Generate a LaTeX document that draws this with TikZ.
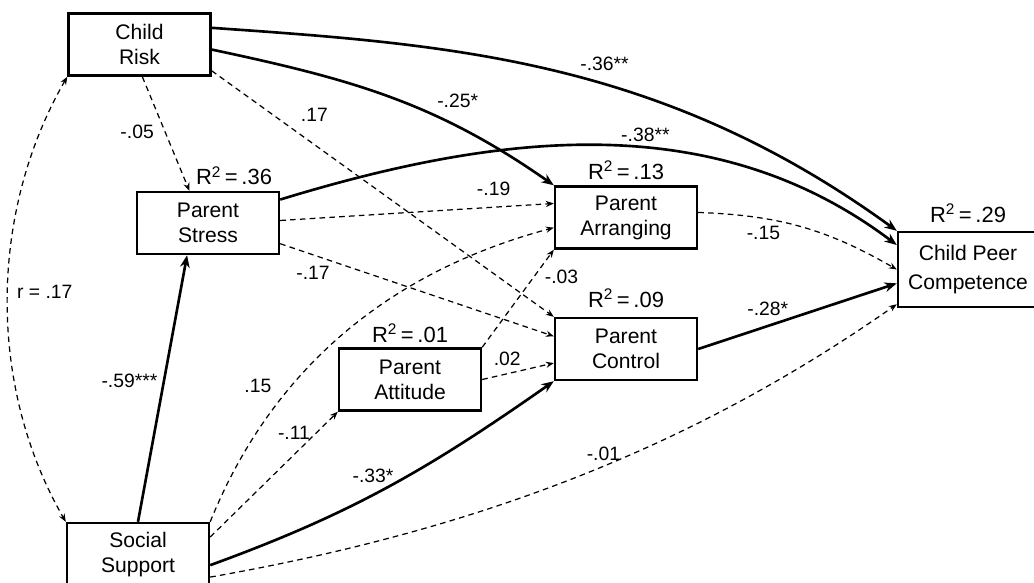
\documentclass[tikz,border=0pt]{standalone}
\usepackage{fontspec}
\setmainfont{Liberation Sans}
\usetikzlibrary{arrows.meta, positioning}
\tikzset{
  var/.style={draw, line width=1.4pt, align=center, minimum width=2.84cm,
              minimum height=1.24cm, inner sep=1pt, font=\fontsize{12}{14.2}\selectfont},
  sig/.style={-{Stealth[length=7pt, width=5.5pt]}, line width=1.5pt},
  nsig/.style={-{Stealth[length=4.5pt, width=3.5pt]}, line width=0.7pt,
               dash pattern=on 3.2pt off 2.4pt},
  nsigboth/.style={nsig, {Stealth[length=4.5pt, width=3.5pt]}-{Stealth[length=4.5pt, width=3.5pt]}},
  coef/.style={font=\fontsize{11}{13}\selectfont, inner sep=1pt},
  rsq/.style={font=\fontsize{12.5}{14}\selectfont, inner sep=0pt},
}

\begin{document}
\begin{tikzpicture}[x=0.02cm, y=-0.02cm]
  \useasboundingbox (0,0) rectangle (1034,582);

  % ---- variables ----
  \node[var] (crisk) at (139.5,44.5) {Child\\Risk};
  \node[var] (pstress) at (208,223) {Parent\\Stress};
  \node[var] (parr) at (626,217.5) {Parent\\Arranging};
  \node[var] (pctrl) at (626,349) {Parent\\Control};
  \node[var] (patt) at (410,379.5) {Parent\\Attitude};
  \node[var, minimum height=1.28cm] (social) at (138,555) {Social\\Support};
  \node[var, minimum width=2.8cm, minimum height=1.5cm] (cpc) at (968,269.5)
    {Child Peer\\[2pt]Competence};

  % ---- explained variance ----
  \node[rsq, above=3pt of pstress, xshift=0.52cm] (r2stress) {R\textsuperscript{2}\,=\,.36};
  \node[rsq, above=3pt of parr] (r2arr) {R\textsuperscript{2}\,=\,.13};
  \node[rsq, above=5pt of pctrl] (r2ctrl) {R\textsuperscript{2}\,=\,.09};
  \node[rsq, above=2.5pt of patt] (r2att) {R\textsuperscript{2}\,=\,.01};
  \node[rsq, above=4.5pt of cpc] (r2cpc) {R\textsuperscript{2}\,=\,.29};

  % ---- paths ----
  \draw[sig] (crisk.13) to[out=-4, in=144, out looseness=0.85, in looseness=1.05]
    node[coef, pos=0.575, above=6pt] {-.36**} (cpc.north west);
  \draw[sig] (crisk.-4) to[out=-12, in=145] node[coef, pos=0.71, above=9pt] {-.25*} (parr.north west);
  \draw[nsig] (crisk.-85) -- node[coef, pos=0.48, left=5pt] {-.05} (pstress.120);
  \draw[nsig] (crisk.-20) -- node[coef, pos=0.3, above=12pt] {.17} (pctrl.north west);
  \draw[sig] (pstress.18) to[out=17, in=143, looseness=0.95]
    node[coef, pos=0.57, above=2pt] {-.38**} (cpc.161);
  \draw[nsig] (pstress.2) -- node[coef, pos=0.78, above=5pt] {-.19} (parr.169);
  \draw[nsig] (pstress.-16) -- node[coef, pos=0.12, below=5pt] {-.17} (pctrl.170);
  \draw[sig] (social.north) -- node[coef, pos=0.53, left=2pt] {-.59***} (pstress.-123);
  \draw[nsigboth] (crisk.south west) to[out=240, in=120, looseness=0.9]
    node[coef, right=4pt, yshift=4pt] {r = .17} (social.north west);
  \draw[nsig] (social.north east) to[out=68, in=195, out looseness=0.8, in looseness=1.1]
    node[coef, pos=0.37, left=10pt] {.15} (parr.188);
  \draw[nsig] (social.14) -- node[coef, pos=0.8, left=0pt, yshift=2pt] {-.11} (patt.south west);
  \draw[sig] (social.-8) to[out=20, in=-145] node[coef, pos=0.45, above=5pt] {-.33*} (pctrl.south west);
  \draw[nsig] (social.-17) to[out=10, in=-145, looseness=0.9]
    node[coef, pos=0.55, above=2pt] {-.01} (cpc.206);
  \draw[nsig] (patt.north east) -- node[coef, pos=0.72, right=5pt] {-.03} (parr.south west);
  \draw[nsig] (patt.east) -- node[coef, pos=0.35, above=3pt] {.02} (pctrl.191);
  \draw[nsig] (parr.4) to[out=-2, in=150] node[coef, pos=0.3, below=3pt] {-.15} (cpc.west);
  \draw[sig] (pctrl.east) -- node[coef, pos=0.35, above=4pt] {-.28*} (cpc.191);
\end{tikzpicture}
\end{document}
